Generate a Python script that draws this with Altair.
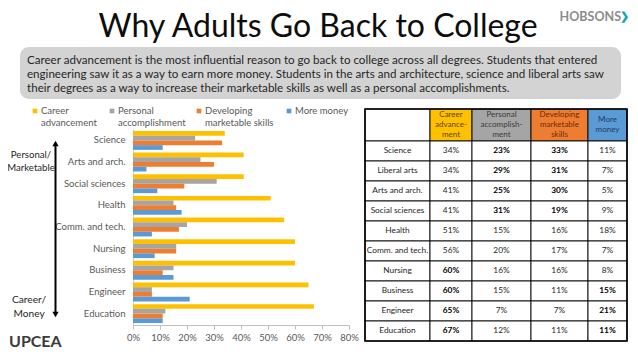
import altair as alt
import pandas as pd

# ---------------- data ----------------
table_rows = ["Science", "Liberal arts", "Arts and arch.", "Social sciences", "Health",
              "Comm. and tech.", "Nursing", "Business", "Engineer", "Education"]
career = [34, 34, 41, 41, 51, 56, 60, 60, 65, 67]
personal = [23, 29, 25, 31, 15, 20, 16, 15, 7, 12]
developing = [33, 31, 30, 19, 16, 17, 16, 11, 7, 11]
money = [11, 7, 5, 9, 18, 7, 8, 15, 21, 11]
bold_career = [0, 0, 0, 0, 0, 0, 1, 1, 1, 1]
bold_personal = [1, 1, 1, 1, 0, 0, 0, 0, 0, 0]
bold_developing = [1, 1, 1, 1, 0, 0, 0, 0, 0, 0]
bold_money = [0, 0, 0, 0, 0, 0, 0, 1, 1, 1]

chart_categories = ["Science", "Arts and arch.", "Social sciences", "Health", "Comm. and tech.",
                    "Nursing", "Business", "Engineer", "Education"]
series = ["Career advancement", "Personal accomplishment", "Developing marketable skills", "More money"]
legend_lines = [["Career", "advancement"], ["Personal", "accomplishment"],
                ["Developing", "marketable skills"], ["More money"]]
header_labels = ["Career\nadvance-\nment", "Personal\naccomplish-\nment",
                 "Developing\nmarketable\nskills", "More\nmoney"]
x_ticks = [0, 0.1, 0.2, 0.3, 0.4, 0.5, 0.6, 0.7, 0.8]

title_text = "Why Adults Go Back to College"
desc_lines = [
    "Career advancement is the most influential reason to go back to college across all degrees. Students that entered",
    "engineering saw it as a way to earn more money. Students in the arts and architecture, science and liberal arts saw",
    "their degrees as a way to increase their marketable skills as well as a personal accomplishments.",
]

# ---------------- style / layout ----------------
FONT = "Lato"
series_colors = ["#FFC000", "#A5A5A5", "#ED7D31", "#5B9BD5"]
header_text_colors = ["#5C4600", "#3A3A3A", "#6B2E08", "#1F3864"]
PLOT_L, PLOT_T, W, H = 133, 129, 216, 196
TOTAL_W, TOTAL_H = 622, 343


def X(px):
    return px - PLOT_L


def Y(py):
    return py - PLOT_T


one = pd.DataFrame({"d": [0]})


def txt(s, x, y, size=10, color="#404040", weight="normal", align="left", baseline="middle"):
    return alt.Chart(pd.DataFrame({"t": [s]})).mark_text(
        align=align, baseline=baseline, fontSize=size, color=color, fontWeight=weight, font=FONT
    ).encode(x=alt.value(X(x)), y=alt.value(Y(y)), text="t:N")


layers = []

# ---- bar chart ----
vals = {s: v for s, v in zip(series, [career, personal, developing, money])}
recs = []
for cat in chart_categories:
    i = table_rows.index(cat)
    for s in series:
        recs.append({"category": cat, "series": s, "value": vals[s][i] / 100})
bars_df = pd.DataFrame(recs)

bars = alt.Chart(bars_df).mark_bar().encode(
    x=alt.X("value:Q", scale=alt.Scale(domain=[0, 0.8], nice=False),
            axis=alt.Axis(values=x_ticks, format=".0%", title=None, grid=False,
                          labelFont=FONT, labelFontSize=9.5, labelColor="#595959",
                          labelFlush=False, labelOverlap=False, domainColor="#BFBFBF",
                          tickColor="#BFBFBF", tickSize=4, labelPadding=3)),
    y=alt.Y("category:N", sort=chart_categories,
            scale=alt.Scale(paddingInner=0.126, paddingOuter=0.09),
            axis=alt.Axis(title=None, ticks=False, tickSize=0, labelPadding=8,
                          labelFont=FONT, labelFontSize=9.5, labelColor="#595959",
                          domainColor="#D0D0D0")),
    yOffset=alt.YOffset("series:N", sort=series, scale=alt.Scale(paddingInner=0, paddingOuter=0)),
    color=alt.Color("series:N", sort=series,
                    scale=alt.Scale(domain=series, range=series_colors), legend=None),
)
layers.append(bars)

# ---- title, header logo ----
layers.append(txt(title_text, 318, 36.5, size=32, color="#0D0D0D", align="center", baseline="alphabetic"))
layers.append(txt("HOBSONS", 621, 17, size=12.5, color="#8C8C8C", weight="bold", align="right"))
layers.append(txt("\u276F", 629, 17, size=11, color="#19A3B4", weight="bold", align="right"))

# ---- description box ----
layers.append(alt.Chart(one).mark_rect(cornerRadius=9, color="#D3D3D3").encode(
    x=alt.value(X(20)), x2=alt.value(X(621)), y=alt.value(Y(47)), y2=alt.value(Y(99))))
for k, line in enumerate(desc_lines):
    layers.append(txt(line, 27, 60.5 + 14 * k, size=11.6, color="#262626"))

# ---- legend ----
legend_x = [35, 112, 199, 289]
for s, c, lines, lx in zip(series, series_colors, legend_lines, legend_x):
    layers.append(alt.Chart(one).mark_square(size=22, color=c, opacity=1).encode(
        x=alt.value(X(lx)), y=alt.value(Y(111))))
    for k, ln in enumerate(lines):
        layers.append(txt(ln, lx + 6, 111 + 12 * k, size=9.5, color="#595959"))

# ---- arrow and annotations ----
layers.append(alt.Chart(one).mark_rule(color="black", strokeWidth=2).encode(
    x=alt.value(X(55.5)), y=alt.value(Y(145)), y2=alt.value(Y(313))))
layers.append(alt.Chart(one).mark_point(shape="triangle-up", filled=True, color="black", size=40, opacity=1).encode(
    x=alt.value(X(55.5)), y=alt.value(Y(143.5))))
layers.append(alt.Chart(one).mark_point(shape="triangle-down", filled=True, color="black", size=40, opacity=1).encode(
    x=alt.value(X(55.5)), y=alt.value(Y(314.5))))
layers.append(txt("Personal/", 31, 154.5, size=9.6, color="#262626", align="center"))
layers.append(txt("Marketable", 31, 167.5, size=9.6, color="#262626", align="center"))
layers.append(txt("Career/", 29, 300, size=10.2, color="#262626", align="center"))
layers.append(txt("Money", 29, 313.5, size=10.2, color="#262626", align="center"))

# ---- bottom logo ----
layers.append(txt("UPCEA", 9, 346.5, size=16, color="#3B3B3B", weight="bold", baseline="alphabetic"))

# ---- table ----
col_edges = [365, 430, 472, 531, 588, 627]
header_top, header_bot, row_h = 109, 141, 20
line_h = 10
cell_recs = []
text_recs = []
# header
cell_recs.append({"x0": X(col_edges[0]), "x1": X(col_edges[1]), "y0": Y(header_top), "y1": Y(header_bot), "fill": "#FFFFFF"})
for j in range(4):
    cell_recs.append({"x0": X(col_edges[j + 1]), "x1": X(col_edges[j + 2]), "y0": Y(header_top),
                      "y1": Y(header_bot), "fill": series_colors[j]})
head_mid = (header_top + header_bot) / 2
head_df = pd.DataFrame({
    "t": header_labels,
    "cx": [X((col_edges[j + 1] + col_edges[j + 2]) / 2) for j in range(4)],
    "cy": [Y(head_mid - (lab.count("\n")) * line_h / 2) for lab in header_labels],
    "tc": header_text_colors,
})
cols = [career, personal, developing, money]
bolds = [bold_career, bold_personal, bold_developing, bold_money]
for i, r in enumerate(table_rows):
    y0 = header_bot + i * row_h
    y1 = y0 + row_h
    for j in range(5):
        cell_recs.append({"x0": X(col_edges[j]), "x1": X(col_edges[j + 1]), "y0": Y(y0), "y1": Y(y1), "fill": "#FFFFFF"})
    cy = Y((y0 + y1) / 2)
    text_recs.append({"t": r, "cx": X((col_edges[0] + col_edges[1]) / 2), "cy": cy, "b": 0})
    for j in range(4):
        text_recs.append({"t": f"{cols[j][i]}%", "cx": X((col_edges[j + 1] + col_edges[j + 2]) / 2),
                          "cy": cy, "b": bolds[j][i]})
cells_df = pd.DataFrame(cell_recs)
ttext_df = pd.DataFrame(text_recs)

layers.append(alt.Chart(cells_df).mark_rect(stroke="#000000", strokeWidth=0.9).encode(
    x=alt.X("x0:Q", scale=None, axis=None), x2="x1:Q",
    y=alt.Y("y0:Q", scale=None, axis=None), y2="y1:Q",
    fill=alt.Fill("fill:N", scale=None)))
layers.append(alt.Chart(one).mark_rect(filled=False, stroke="#000000", strokeWidth=1.6).encode(
    x=alt.value(X(col_edges[0])), x2=alt.value(X(col_edges[-1])),
    y=alt.value(Y(header_top)), y2=alt.value(Y(header_bot + row_h * len(table_rows)))))
layers.append(alt.Chart(head_df).mark_text(lineBreak="\n", lineHeight=line_h, fontSize=8, font=FONT,
                                           align="center", baseline="middle").encode(
    x=alt.X("cx:Q", scale=None, axis=None), y=alt.Y("cy:Q", scale=None, axis=None),
    text="t:N", color=alt.Color("tc:N", scale=None)))
layers.append(alt.Chart(ttext_df[ttext_df.b == 0]).mark_text(fontSize=8.3, font=FONT, color="#262626",
                                                          align="center", baseline="middle").encode(
    x=alt.X("cx:Q", scale=None, axis=None), y=alt.Y("cy:Q", scale=None, axis=None), text="t:N"))
layers.append(alt.Chart(ttext_df[ttext_df.b == 1]).mark_text(fontSize=8.3, font=FONT, color="#000000",
                                                          fontWeight="bold", align="center",
                                                          baseline="middle").encode(
    x=alt.X("cx:Q", scale=None, axis=None), y=alt.Y("cy:Q", scale=None, axis=None), text="t:N"))

chart = alt.layer(*layers).properties(
    width=W, height=H,
    autosize=alt.AutoSizeParams(type="none"),
    padding={"left": PLOT_L - 8, "top": PLOT_T - 8,
             "right": TOTAL_W - (PLOT_L - 8) - W, "bottom": TOTAL_H - (PLOT_T - 8) - H},
).resolve_scale(x="independent", y="independent", color="independent").configure_view(stroke=None)

chart.save("out.html", embed_options={"renderer": "svg", "actions": False})
